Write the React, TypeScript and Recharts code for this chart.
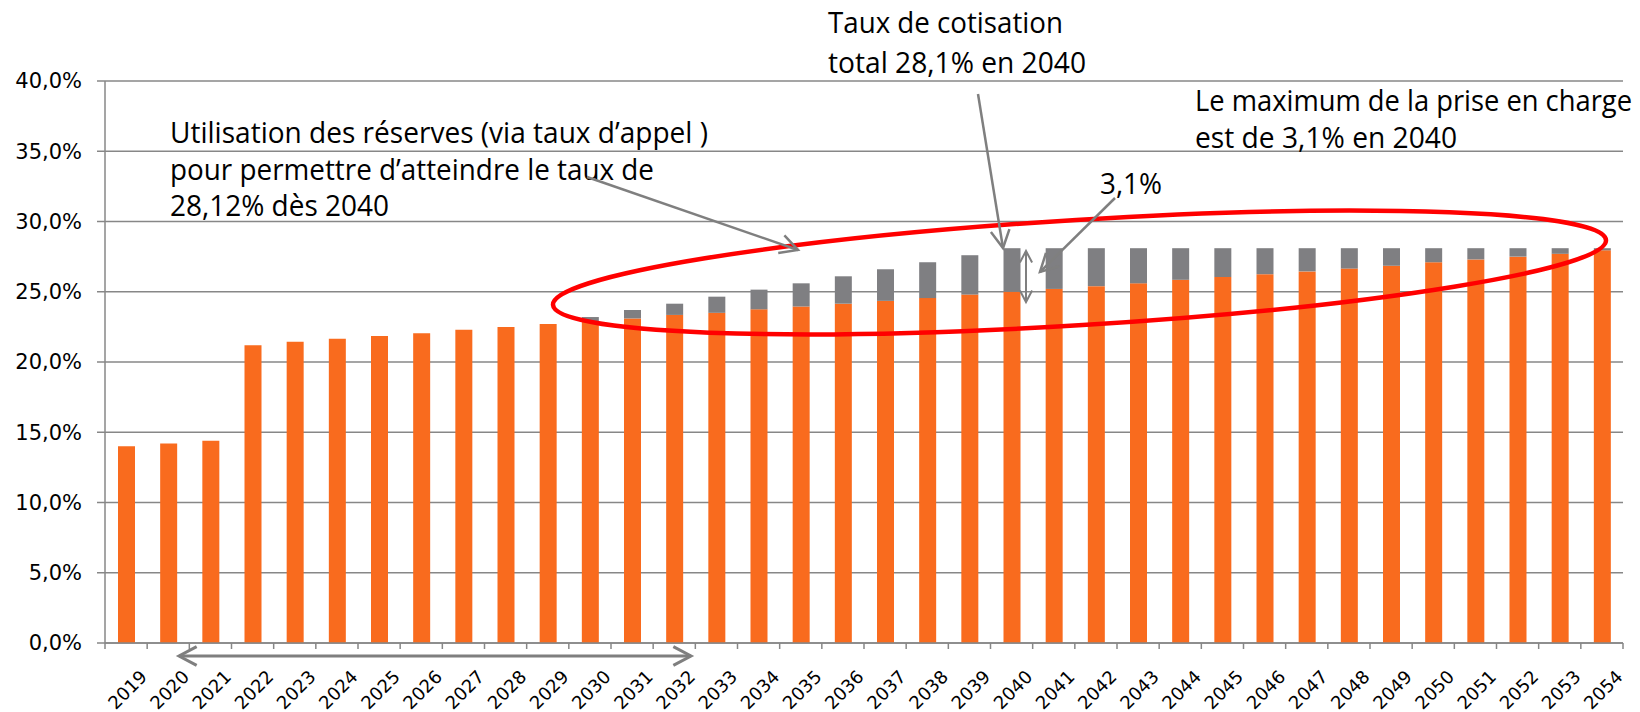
import React from "react";
import { BarChart, Bar, XAxis, YAxis, CartesianGrid } from "recharts";

const years = [
  "2019", "2020", "2021", "2022", "2023", "2024", "2025", "2026", "2027",
  "2028", "2029", "2030", "2031", "2032", "2033", "2034", "2035", "2036",
  "2037", "2038", "2039", "2040", "2041", "2042", "2043", "2044", "2045",
  "2046", "2047", "2048", "2049", "2050", "2051", "2052", "2053", "2054",
];

// taux de cotisation (orange)
const tauxBase = [
  14.0, 14.2, 14.4, 21.2, 21.45, 21.65, 21.85, 22.05, 22.3, 22.5, 22.7,
  22.9, 23.1, 23.35, 23.5, 23.75, 23.95, 24.15, 24.35, 24.55, 24.8, 25.0,
  25.2, 25.4, 25.6, 25.85, 26.05, 26.25, 26.45, 26.65, 26.85, 27.1, 27.3,
  27.5, 27.7, 27.95,
];

// prise en charge par les réserves (gris)
const priseEnCharge = [
  0, 0, 0, 0, 0, 0, 0, 0, 0, 0, 0,
  0.3, 0.6, 0.8, 1.15, 1.4, 1.65, 1.95, 2.25, 2.55, 2.8, 3.1,
  2.9, 2.7, 2.5, 2.25, 2.05, 1.85, 1.65, 1.45, 1.25, 1.0, 0.8,
  0.6, 0.4, 0.15,
];

const yTicks = [0, 5, 10, 15, 20, 25, 30, 35, 40];

const data = years.map((year, i) => ({
  year,
  base: tauxBase[i],
  reserve: priseEnCharge[i],
}));

const W = 1640;
const H = 712;
const Y_AXIS_W = 105;
const RIGHT = 17;
const TOP = 81;
const X_AXIS_H = 69;
const AXIS_Y = H - X_AXIS_H;
const STEP = (W - Y_AXIS_W - RIGHT) / years.length;

const GRID = "#878787";
const ARROW = "#7f7f7f";
const NOTE_FONT = "'Liberation Sans Narrow', 'Open Sans', sans-serif";

const fmt = (v: number) => v.toFixed(1).replace(".", ",") + "%";

const XTick = (props: any) => {
  const { x, payload, index } = props;
  const left = x - STEP / 2;
  return (
    <g>
      <line x1={left} x2={left} y1={AXIS_Y} y2={AXIS_Y + 6} stroke={GRID} strokeWidth={1.5} />
      {index === years.length - 1 && (
        <line x1={left + STEP} x2={left + STEP} y1={AXIS_Y} y2={AXIS_Y + 6} stroke={GRID} strokeWidth={1.5} />
      )}
      <text
        transform={`translate(${x + 22},${AXIS_Y + 35}) rotate(-45)`}
        textAnchor="end"
        fontFamily="'DejaVu Sans', sans-serif"
        fontSize={18}
        fill="#000"
      >
        {payload.value}
      </text>
    </g>
  );
};

function chevron(tx: number, ty: number, fx: number, fy: number, len = 20, half = 28) {
  const a = Math.atan2(fy - ty, fx - tx);
  const h = (half * Math.PI) / 180;
  const p1 = [tx + len * Math.cos(a + h), ty + len * Math.sin(a + h)];
  const p2 = [tx + len * Math.cos(a - h), ty + len * Math.sin(a - h)];
  return `M${p1[0]},${p1[1]} L${tx},${ty} L${p2[0]},${p2[1]}`;
}

function Arrow({ x1, y1, x2, y2, w = 2.5, len = 20, both = false }: any) {
  return (
    <g stroke={ARROW} strokeWidth={w} fill="none">
      <line x1={x1} y1={y1} x2={x2} y2={y2} />
      <path d={chevron(x2, y2, x1, y1, len)} />
      {both && <path d={chevron(x1, y1, x2, y2, len)} />}
    </g>
  );
}

function Note({ x, y, lines, widths, gap = 36.5 }: any) {
  return (
    <g fontFamily={NOTE_FONT} fontSize={30} fill="#000">
      {lines.map((t: string, i: number) => (
        <text
          key={i}
          x={x}
          y={y + i * gap}
          textLength={widths[i]}
          lengthAdjust="spacingAndGlyphs"
        >
          {t}
        </text>
      ))}
    </g>
  );
}

export default function App() {
  return (
    <div style={{ position: "absolute", left: 0, top: 0, width: W, height: H, background: "#fff" }}>
      <BarChart
        width={W}
        height={H}
        data={data}
        margin={{ top: TOP, right: RIGHT, bottom: 0, left: 0 }}
        barSize={17}
      >
        <CartesianGrid vertical={false} stroke={GRID} strokeWidth={1.5} />
        <XAxis
          dataKey="year"
          height={X_AXIS_H}
          interval={0}
          tickLine={false}
          axisLine={{ stroke: GRID, strokeWidth: 1.5 }}
          tick={<XTick />}
        />
        <YAxis
          width={Y_AXIS_W}
          domain={[0, 40]}
          ticks={yTicks}
          interval={0}
          tickFormatter={fmt}
          tickSize={8}
          tickMargin={15}
          axisLine={{ stroke: GRID, strokeWidth: 1.5 }}
          tickLine={{ stroke: GRID, strokeWidth: 1.5 }}
          tick={{ fill: "#000", fontSize: 21, fontFamily: "'DejaVu Sans', sans-serif" }}
        />
        <Bar dataKey="base" stackId="a" fill="#F96B1E" isAnimationActive={false} />
        <Bar dataKey="reserve" stackId="a" fill="#7F7F82" isAnimationActive={false} />
      </BarChart>

      <svg
        width={W}
        height={H}
        style={{ position: "absolute", left: 0, top: 0, pointerEvents: "none" }}
      >
        <ellipse
          cx={1079.5}
          cy={272.5}
          rx={527.5}
          ry={52.7}
          transform="rotate(-3.53 1079.5 272.5)"
          fill="none"
          stroke="#FF0000"
          strokeWidth={4.5}
        />

        <Note
          x={170}
          y={143}
          lines={[
            "Utilisation des réserves (via taux d’appel )",
            "pour permettre d’atteindre le taux de",
            "28,12% dès 2040",
          ]}
          widths={[538, 484, 219]}
        />
        <Note
          x={828}
          y={33}
          lines={["Taux de cotisation", "total 28,1% en 2040"]}
          widths={[235, 258]}
          gap={40}
        />
        <Note
          x={1195}
          y={111}
          lines={["Le maximum de la prise en charge", "est de 3,1% en 2040"]}
          widths={[437, 262]}
        />
        <Note x={1100} y={194} lines={["3,1%"]} widths={[62]} />

        <Arrow x1={587} y1={177} x2={798} y2={250} />
        <Arrow x1={978} y1={94} x2={1003} y2={248} />
        <Arrow x1={1115} y1={198} x2={1040} y2={272} />
        <Arrow x1={1026} y1={251} x2={1026} y2={302} w={2} len={13} both />
        <Arrow x1={179} y1={656} x2={691} y2={656} w={3} both />
      </svg>
    </div>
  );
}
